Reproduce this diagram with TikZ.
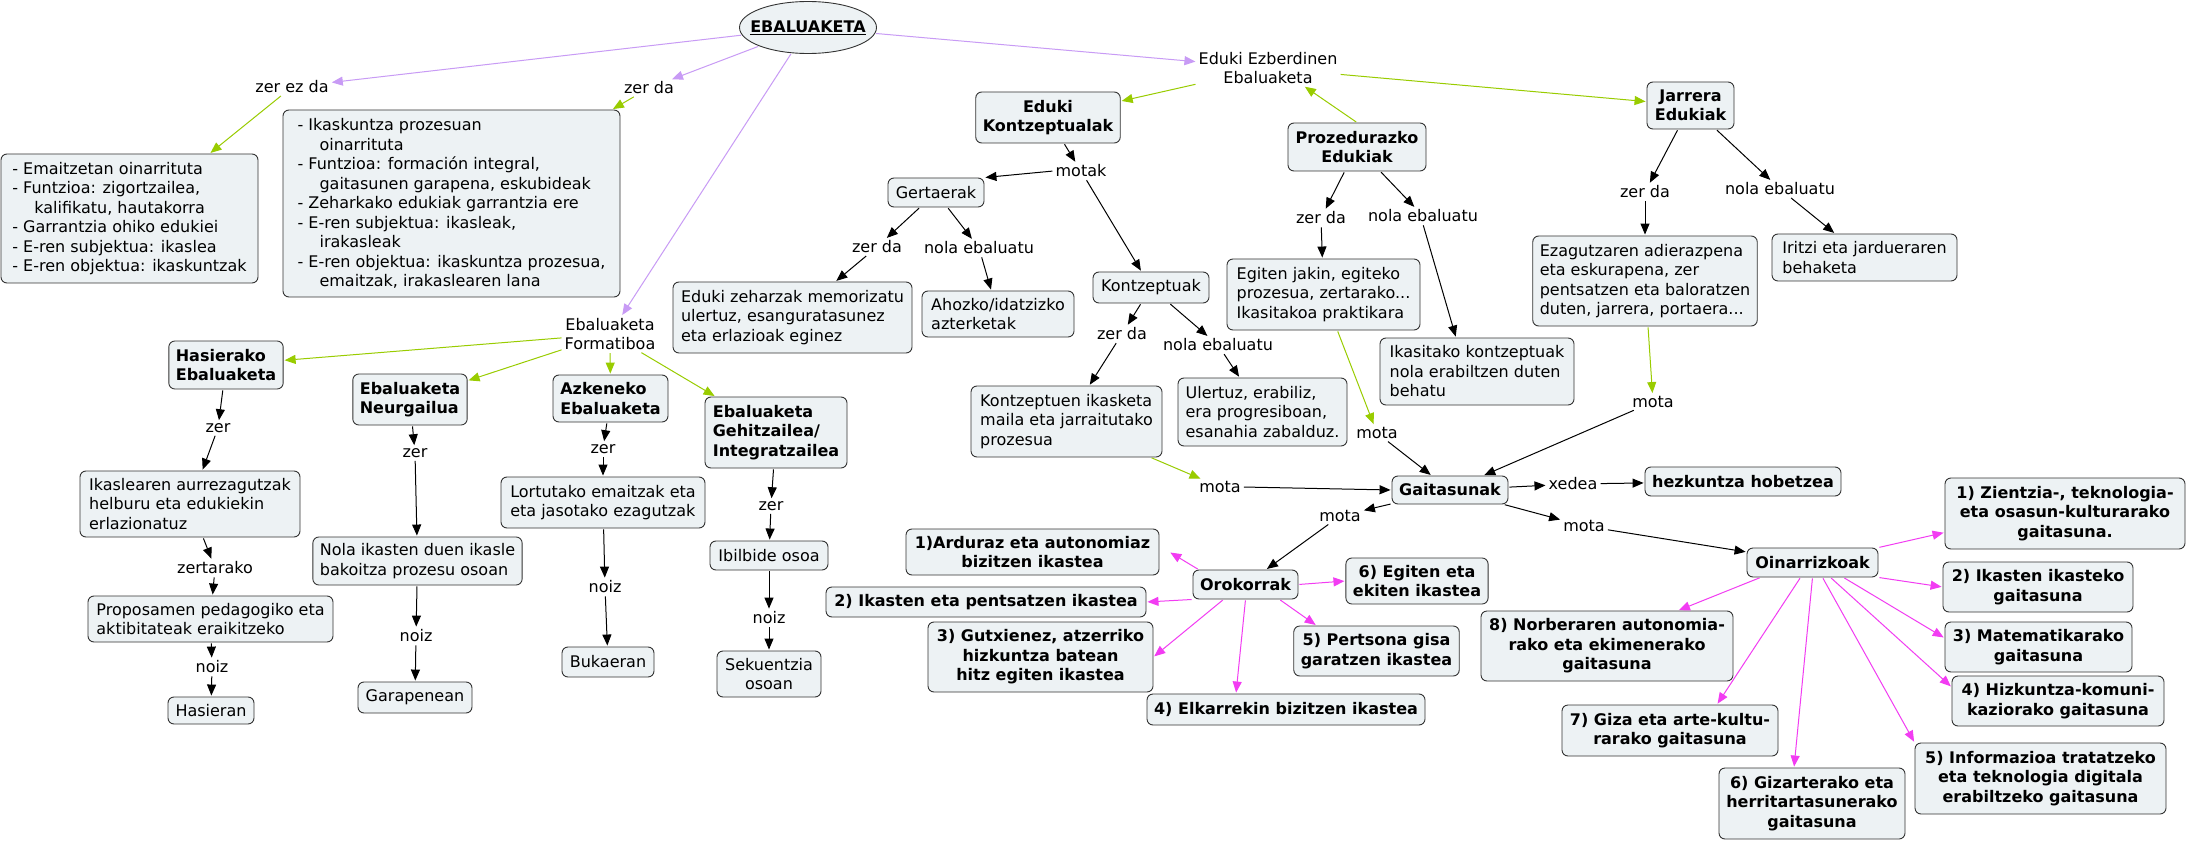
\documentclass[tikz,border=0pt]{standalone}
\usepackage{fontspec}
\setmainfont{DejaVu Sans}
\usetikzlibrary{arrows.meta,shapes.geometric,calc}
\definecolor{boxfill}{HTML}{EDF2F4}
\definecolor{purp}{HTML}{C89BF5}
\definecolor{grn}{HTML}{99CC00}
\definecolor{mag}{HTML}{F23CF2}
\definecolor{bord}{HTML}{333333}
\newcommand\bx[8][]{%
 \pgfmathsetmacro\bxw{#5-#3}\pgfmathsetmacro\bxh{#6-#4}%
 \pgfmathsetmacro\bxcx{(#3+#5)/2}\pgfmathsetmacro\bxcy{(#4+#6)/2}%
 \node[box,#1,minimum width=\bxw pt,minimum height=\bxh pt,align=#7] (#2) at (\bxcx,\bxcy) {#8};}
\begin{document}
\begin{tikzpicture}[x=1pt,y=-1pt,
 nf/.style={font=\fontsize{16}{19.5}\selectfont},
 bf/.style={font=\fontsize{16}{19.5}\selectfont\bfseries},
 box/.style={nf,draw=bord,line width=0.9pt,fill=boxfill,rounded corners=6pt,inner xsep=7pt,inner ysep=3pt},
 lbl/.style={nf,inner sep=2pt,align=center},
 arr/.style={line width=1pt,-{Triangle[length=11pt,width=9pt]},shorten >=1pt,shorten <=1pt},
 barr/.style={arr,draw=black},
 parr/.style={arr,draw=purp},
 garr/.style={arr,draw=grn},
 marr/.style={arr,draw=mag}]
\useasboundingbox (0,0) rectangle (2187,842);
\fill[white] (0,0) rectangle (2187,842);
% top
\node[ellipse,draw=bord,fill=boxfill,line width=0.9pt,minimum width=137pt,minimum height=52pt,inner sep=0pt] (eb) at (808,27.5) {};
\node[bf,inner sep=0pt] (ebt) at (eb.center) {\underline{EBALUAKETA}};
\node[lbl] (zerezda) at (292,87) {zer ez da};
\node[lbl] (zerdaT) at (649,88) {zer da};
\bx{bZE}{1}{154}{258}{283}{left}{- Emaitzetan oinarrituta\\- Funtzioa: zigortzailea,\\\hspace*{22pt}kalifikatu, hautakorra\\- Garrantzia ohiko edukiei\\- E-ren subjektua: ikaslea\\- E-ren objektua: ikaskuntzak}
\bx{bZD}{283}{110}{620}{297}{left}{- Ikaskuntza prozesuan\\\hspace*{22pt}oinarrituta\\- Funtzioa: formación integral,\\\hspace*{22pt}gaitasunen garapena, eskubideak\\- Zeharkako edukiak garrantzia ere\\- E-ren subjektua: ikasleak,\\\hspace*{22pt}irakasleak\\- E-ren objektua: ikaskuntza prozesua,\\\hspace*{22pt}emaitzak, irakaslearen lana}
\node[lbl] (ee) at (1268,68) {Eduki Ezberdinen\\Ebaluaketa};
\bx[bf]{eKon}{976}{92}{1120}{143}{center}{Eduki\\Kontzeptualak}
\bx[bf]{proz}{1288}{123}{1426}{171}{center}{Prozedurazko\\Edukiak}
\bx[bf]{jarr}{1647}{82}{1734}{129}{center}{Jarrera\\Edukiak}
\node[lbl] (motak) at (1081,171) {motak};
\bx{gert}{888}{178}{984}{207}{center}{Gertaerak}
\node[lbl] (zdG) at (877,247) {zer da};
\node[lbl] (neG) at (979,248) {nola ebaluatu};
\bx{edz}{673}{282}{912}{353}{left}{Eduki zeharzak memorizatu\\ulertuz, esanguratasunez\\eta erlazioak eginez}
\bx{ahoz}{922}{291}{1074}{337}{left}{Ahozko/idatzizko\\azterketak}
\bx{kontz}{1093}{272}{1209}{303}{center}{Kontzeptuak}
\node[lbl] (zdK) at (1122,334) {zer da};
\node[lbl] (neK) at (1218,345) {nola ebaluatu};
\bx{kikas}{971}{386}{1162}{457}{left}{Kontzeptuen ikasketa\\maila eta jarraitutako\\prozesua}
\bx{uler}{1178}{378}{1347}{446}{left}{Ulertuz, erabiliz,\\era progresiboan,\\esanahia zabalduz.}
\node[lbl] (zdP) at (1321,218) {zer da};
\node[lbl] (neP) at (1423,216) {nola ebaluatu};
\bx{egit}{1227}{259}{1420}{330}{left}{Egiten jakin, egiteko\\prozesua, zertarako...\\Ikasitakoa praktikara}
\bx{ikas}{1380}{338}{1574}{405}{left}{Ikasitako kontzeptuak\\nola erabiltzen duten\\behatu}
\node[lbl] (zdJ) at (1645,192) {zer da};
\node[lbl] (neJ) at (1780,189) {nola ebaluatu};
\bx{ezag}{1533}{236}{1757}{326}{left}{Ezagutzaren adierazpena\\eta eskurapena, zer\\pentsatzen eta baloratzen\\duten, jarrera, portaera...}
\bx{irit}{1772}{234}{1957}{281}{left}{Iritzi eta jardueraren\\behaketa}
\node[lbl] (motaK) at (1220,487) {mota};
\node[lbl] (motaP) at (1377,433) {mota};
\node[lbl] (motaJ) at (1653,402) {mota};
\bx[bf]{gait}{1392}{476}{1508}{504}{center}{Gaitasunak}
\node[lbl] (xedea) at (1573,484) {xedea};
\bx[bf]{hezk}{1645}{467}{1841}{496}{center}{hezkuntza hobetzea}
\node[lbl] (motaR) at (1584,526) {mota};
\node[lbl] (motaDL) at (1340,516) {mota};
% formative
\node[lbl] (form) at (610,334) {Ebaluaketa\\Formatiboa};
\bx[bf]{hasi}{169}{341}{283}{389}{left}{Hasierako\\Ebaluaketa}
\bx[bf]{neur}{353}{374}{467}{425}{left}{Ebaluaketa\\Neurgailua}
\bx[bf]{azk}{553}{375}{668}{422}{left}{Azkeneko\\Ebaluaketa}
\bx[bf]{geh}{705}{397}{847}{468}{left}{Ebaluaketa\\Gehitzailea/\\Integratzailea}
\node[lbl] (zerH) at (218,428) {zer};
\node[lbl] (zerN) at (415,453) {zer};
\node[lbl] (zerA) at (603,449) {zer};
\node[lbl] (zerG) at (771,506) {zer};
\bx{ikasl}{80}{471}{300}{537}{left}{Ikaslearen aurrezagutzak\\helburu eta edukiekin\\erlazionatuz}
\node[lbl] (zertarako) at (215,568) {zertarako};
\bx{prop}{88}{596}{333}{642}{left}{Proposamen pedagogiko eta\\aktibitateak eraikitzeko}
\node[lbl] (noizH) at (212,667) {noiz};
\bx{hasieran}{168}{697}{254}{724}{center}{Hasieran}
\bx{nolaik}{313}{537}{522}{585}{left}{Nola ikasten duen ikasle\\bakoitza prozesu osoan}
\node[lbl] (noizN) at (416,636) {noiz};
\bx{garap}{358}{682}{472}{713}{center}{Garapenean}
\bx{lort}{501}{477}{705}{528}{left}{Lortutako emaitzak eta\\eta jasotako ezagutzak}
\node[lbl] (noizA) at (605,587) {noiz};
\bx{buk}{562}{647}{654}{677}{center}{Bukaeran}
\bx{ibil}{710}{541}{828}{570}{center}{Ibilbide osoa}
\node[lbl] (noizG) at (769,618) {noiz};
\bx{sek}{717}{651}{821}{697}{center}{Sekuentzia\\osoan}
% orokorrak
\bx[bf]{orok}{1193}{570}{1298}{599}{center}{Orokorrak}
\bx[bf]{a1}{906}{529}{1159}{575}{center}{1)Arduraz eta autonomiaz\\bizitzen ikastea}
\bx[bf]{a2}{826}{587}{1146}{617}{center}{2) Ikasten eta pentsatzen ikastea}
\bx[bf]{a3}{928}{622}{1153}{692}{center}{3) Gutxienez, atzerriko\\hizkuntza batean\\hitz egiten ikastea}
\bx[bf]{a4}{1147}{694}{1425}{725}{center}{4) Elkarrekin bizitzen ikastea}
\bx[bf]{a5}{1294}{626}{1459}{676}{center}{5) Pertsona gisa\\garatzen ikastea}
\bx[bf]{a6}{1346}{558}{1488}{604}{center}{6) Egiten eta\\ekiten ikastea}
% oinarrizkoak
\bx[bf]{oin}{1747}{548}{1878}{577}{center}{Oinarrizkoak}
\bx[bf]{z1}{1945}{478}{2185}{549}{center}{1) Zientzia-, teknologia-\\eta osasun-kulturarako\\gaitasuna.}
\bx[bf]{z2}{1943}{562}{2133}{612}{center}{2) Ikasten ikasteko\\gaitasuna}
\bx[bf]{z3}{1945}{622}{2132}{672}{center}{3) Matematikarako\\gaitasuna}
\bx[bf]{z4}{1952}{676}{2164}{726}{center}{4) Hizkuntza-komuni-\\kaziorako gaitasuna}
\bx[bf]{z5}{1915}{743}{2166}{814}{center}{5) Informazioa tratatzeko\\eta teknologia digitala\\erabiltzeko gaitasuna}
\bx[bf]{z6}{1719}{768}{1905}{839}{center}{6) Gizarterako eta\\herritartasunerako\\gaitasuna}
\bx[bf]{z7}{1562}{705}{1778}{756}{center}{7) Giza eta arte-kultu-\\rarako gaitasuna}
\bx[bf]{z8}{1481}{611}{1733}{681}{center}{8) Norberaren autonomia-\\rako eta ekimenerako\\gaitasuna}
% purple
\draw[parr] (eb) -- (zerezda);
\draw[parr] (eb) -- (zerdaT);
\draw[parr] (eb) -- (form);
\draw[parr] (eb) -- (ee);
% green
\draw[garr] (zerezda) -- (bZE);
\draw[garr] (zerdaT) -- (bZD);
\draw[garr] (ee) -- (eKon);
\draw[garr] (ee) -- (jarr);
\draw[garr] (proz.north) -- ([xshift=36pt]ee.south);
\draw[garr] (form) -- (hasi);
\draw[garr] (form) -- (neur);
\draw[garr] (form) -- (azk);
\draw[garr] (form) -- (geh);
\draw[garr] (kikas) -- (motaK);
\draw[garr] (egit) -- (motaP);
\draw[garr] (ezag) -- (motaJ);
% black
\draw[barr] (eKon) -- (motak);
\draw[barr] (motak.west) -- (gert.north east);
\draw[barr] (motak) -- (kontz);
\draw[barr] (gert) -- (zdG);
\draw[barr] (gert) -- (neG);
\draw[barr] (zdG) -- (edz);
\draw[barr] (neG) -- (ahoz);
\draw[barr] (kontz) -- (zdK);
\draw[barr] (kontz) -- (neK);
\draw[barr] (zdK) -- (kikas);
\draw[barr] (neK) -- (uler);
\draw[barr] (proz) -- (zdP);
\draw[barr] (proz) -- (neP);
\draw[barr] (zdP) -- (egit);
\draw[barr] (neP.south) -- ([xshift=-21pt]ikas.north);
\draw[barr] (jarr) -- (zdJ);
\draw[barr] (jarr) -- (neJ);
\draw[barr] (zdJ) -- (ezag);
\draw[barr] (neJ) -- (irit);
\draw[barr] (motaP) -- (gait);
\draw[barr] (motaJ) -- (gait);
\draw[barr] (motaK.east) -- (gait.west);
\draw[barr] (gait) -- (xedea);
\draw[barr] (xedea) -- (hezk);
\draw[barr] (gait) -- (motaR);
\draw[barr] (motaR) -- (oin);
\draw[barr] (gait) -- (motaDL);
\draw[barr] (motaDL) -- (orok);
\draw[barr] (hasi) -- (zerH);
\draw[barr] (zerH) -- (ikasl);
\draw[barr] (ikasl) -- (zertarako);
\draw[barr] (zertarako) -- (prop);
\draw[barr] (prop) -- (noizH);
\draw[barr] (noizH) -- (hasieran);
\draw[barr] (neur) -- (zerN);
\draw[barr] (zerN) -- (nolaik);
\draw[barr] (nolaik) -- (noizN);
\draw[barr] (noizN) -- (garap);
\draw[barr] (azk) -- (zerA);
\draw[barr] (zerA) -- (lort);
\draw[barr] (lort) -- (noizA);
\draw[barr] (noizA) -- (buk);
\draw[barr] (geh) -- (zerG);
\draw[barr] (zerG) -- (ibil);
\draw[barr] (ibil) -- (noizG);
\draw[barr] (noizG) -- (sek);
% magenta orokorrak
\draw[marr] ([xshift=6pt]orok.north west) -- ([xshift=10pt]a1.east);
\draw[marr] (orok.south west) -- (a2.east);
\draw[marr] ([xshift=-22pt]orok.south) -- (a3.east);
\draw[marr] (orok.south) -- ([xshift=-50pt]a4.north);
\draw[marr] ([xshift=34pt]orok.south) -- ([xshift=-60pt]a5.north);
\draw[marr] (orok.east) -- (a6.west);
% magenta oinarrizkoak
\draw[marr] (oin.north east) -- ([yshift=-19pt]z1.west);
\draw[marr] (oin.south east) -- (z2.west);
\draw[marr] ([xshift=31pt]oin.south) -- ([yshift=9pt]z3.west);
\draw[marr] ([xshift=18pt]oin.south) -- ([yshift=14pt]z4.west);
\draw[marr] ([xshift=10pt]oin.south) -- (z5.north west);
\draw[marr] (oin.south) -- ([xshift=-18pt]z6.north);
\draw[marr] ([xshift=-12pt]oin.south) -- ([xshift=47pt]z7.north);
\draw[marr] ([xshift=-52pt]oin.south) -- ([xshift=71pt]z8.north);
\end{tikzpicture}
\end{document}
